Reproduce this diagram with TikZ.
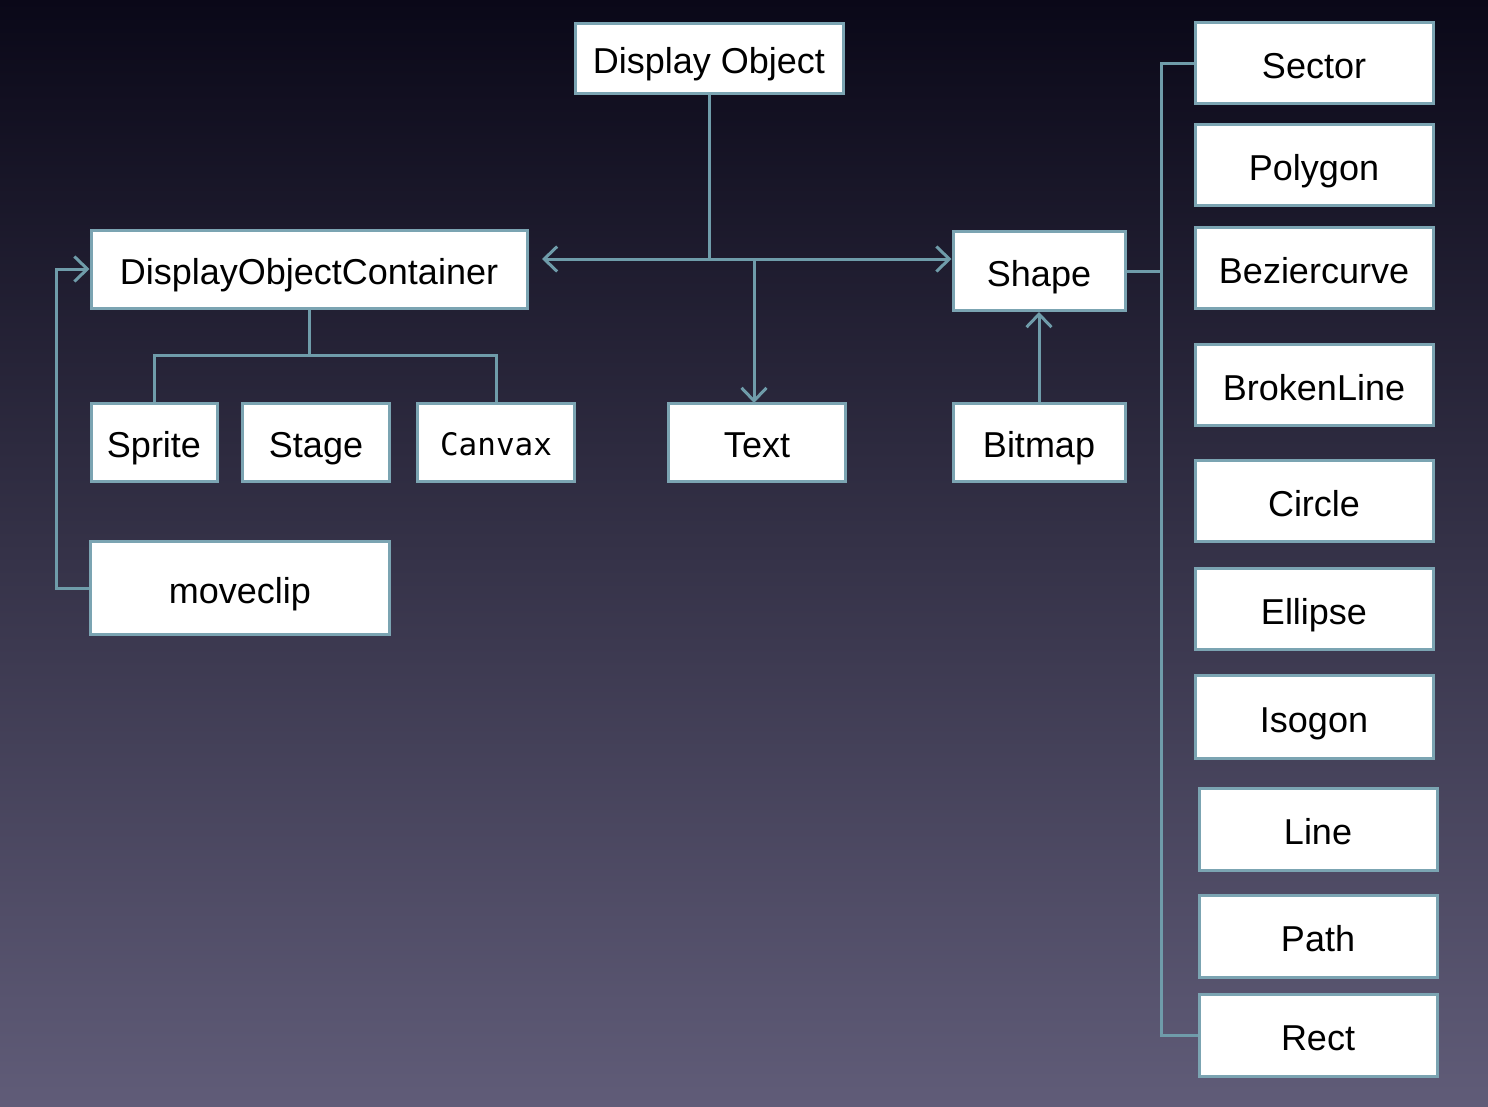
\documentclass[tikz,border=0pt]{standalone}
\usepackage{fontspec}
\setmainfont{Liberation Sans}
\newfontfamily\monofont{DejaVu Sans Mono}
\usetikzlibrary{arrows.meta}

\definecolor{bgtop}{HTML}{0A0818}
\definecolor{bgmid}{HTML}{28253F}
\definecolor{bgbot}{HTML}{605C78}
\definecolor{edge}{HTML}{7BA4B2}
\definecolor{wire}{HTML}{6F9CAA}

\tikzset{
  box/.style={draw=edge, line width=3pt, fill=white, inner sep=0pt,
    text=black, text height=34pt, text depth=4pt,
    font=\fontsize{36}{40}\selectfont},
  leaf/.style={box, minimum width=238pt, minimum height=81pt},
  link/.style={draw=wire, line width=3pt},
  arr/.style={link, -{Straight Barb[length=13pt,width=25pt,line width=3pt]}}
}

\begin{document}
\begin{tikzpicture}[x=1pt,y=-1pt]
 \useasboundingbox (0,0) rectangle (1488,1106);
 \shade[top color=bgtop, middle color=bgmid, bottom color=bgbot] (0,0) rectangle (1488,1106);

 % top and second row
 \node[box, minimum width=268pt, minimum height=70pt] (dobj) at (709,58) {Display Object};
 \node[box, minimum width=436pt, minimum height=78pt] (doc) at (309,269) {DisplayObjectContainer};
 \node[box, minimum width=172pt, minimum height=79pt] (shape) at (1039,271) {Shape};

 % third row
 \node[box, minimum width=126pt, minimum height=78pt] (sprite) at (154,442) {Sprite};
 \node[box, minimum width=147pt, minimum height=78pt] (stage) at (316,442) {Stage};
 \node[box, minimum width=157pt, minimum height=78pt, text height=30pt,
   font=\monofont\fontsize{31}{36}\selectfont] (canvax) at (496,442) {Canvax};
 \node[box, minimum width=177pt, minimum height=78pt] (text) at (757,442) {Text};
 \node[box, minimum width=172pt, minimum height=78pt] (bitmap) at (1039,442) {Bitmap};
 \node[box, minimum width=299pt, minimum height=93pt] (moveclip) at (240,588) {moveclip};

 % right column
 \node[leaf] (sector) at (1314,63) {Sector};
 \node[leaf] (polygon) at (1314,165) {Polygon};
 \node[leaf] (bezier) at (1314,268) {Beziercurve};
 \node[leaf] (broken) at (1314,385) {BrokenLine};
 \node[leaf] (circle) at (1314,501) {Circle};
 \node[leaf] (ellipse) at (1314,609) {Ellipse};
 \node[leaf, minimum height=83pt] (isogon) at (1314,717) {Isogon};
 \node[leaf, minimum height=82pt] (line) at (1318,829) {Line};
 \node[leaf, minimum height=82pt] (path) at (1318,936) {Path};
 \node[leaf, minimum height=82pt] (rect) at (1318,1035) {Rect};

 % connectors
 \coordinate (hub) at (709,259);
 \coordinate (docin) at (542,259);
 \coordinate (textin) at (754,403);
 \coordinate (docbus) at (309,355);
 \coordinate (shbus) at (1161,271);

 \draw[link] (dobj.south) -- (hub);
 \draw[arr] (hub) -- (docin);
 \draw[arr] (hub) -- (shape.west |- hub);
 \draw[arr] (textin |- hub) -- (textin);
 \draw[arr] (bitmap) -- (shape);

 \draw[link] (doc.south) -- (docbus);
 \draw[link] (sprite.north) |- (docbus) -| (canvax.north);
 \draw[arr] (moveclip.west) -- ++(-33,0) |- (doc.west);

 \draw[link] (shape.east) -- (shbus);
 \draw[link] (sector.west) -| (shbus |- rect.west) -- (rect.west);
\end{tikzpicture}
\end{document}
